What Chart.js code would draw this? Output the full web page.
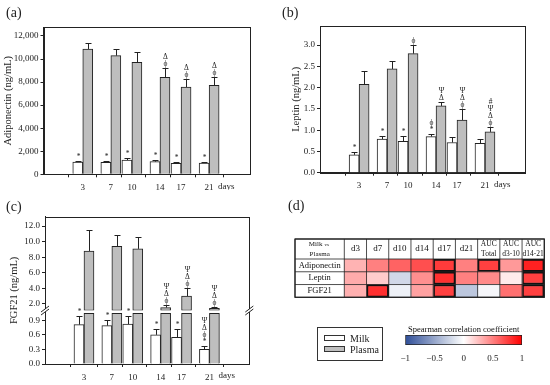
<!DOCTYPE html>
<html>
<head>
<meta charset="utf-8">
<script src="https://cdn.jsdelivr.net/npm/chart.js@4.4.1/dist/chart.umd.min.js"></script>
<style>
  body { margin: 0; background: #fff; }
  #wrap { position: relative; width: 550px; height: 385px; font-family: 'Liberation Serif', serif; color: #222; overflow: hidden; }
  canvas { position: absolute; }
  .tag { position: absolute; font-size: 14px; line-height: 16px; }
  #legend { position: absolute; left: 317px; top: 327px; width: 64px; height: 32px; border: 1px solid #333; font-size: 10px; }
  #legend div { position: absolute; left: 6px; height: 10px; line-height: 10px; }
  #legend span { display: inline-block; width: 19px; height: 4px; border: 1px solid #333; margin-right: 5px; vertical-align: 1px; }
</style>
</head>
<body>
<div id="wrap">
  <canvas id="panelA" width="275" height="190" style="left:0;top:0"></canvas>
  <canvas id="panelB" width="275" height="190" style="left:275px;top:0"></canvas>
  <canvas id="panelC" width="275" height="195" style="left:0;top:190px"></canvas>
  <canvas id="panelD" width="265" height="195" style="left:285px;top:190px"></canvas>
  <canvas id="colorbar" width="150" height="50" style="left:390px;top:318px"></canvas>
  <div class="tag" style="left:6px;top:5px">(a)</div>
  <div class="tag" style="left:282px;top:5px">(b)</div>
  <div class="tag" style="left:6px;top:199px">(c)</div>
  <div class="tag" style="left:288px;top:198px">(d)</div>
  <div id="legend">
    <div style="top:6px"><span style="background:#fff"></span>Milk</div>
    <div style="top:17px"><span style="background:#bebebe"></span>Plasma</div>
  </div>
</div>
<script>
// sampling days (x axis)
const days = [3, 7, 10, 14, 17, 21];

// (a) adiponectin, ng/mL
const adipoMilk = [1070, 1040, 1240, 1100, 950, 980];
const adipoMilkErr = [90, 90, 200, 110, 90, 90];
const adipoPlasma = [10870, 10290, 9710, 8410, 7570, 7720];
const adipoPlasmaErr = [490, 580, 930, 840, 720, 690];
const adipoMilkMarks = [['*'], ['*'], ['*'], ['*'], ['*'], ['*']];
const adipoPlasmaMarks = [[], [], [], ['ϕ', 'Δ'], ['ϕ', 'Δ'], ['ϕ', 'Δ']];
const adipoTicks = [0, 2000, 4000, 6000, 8000, 10000, 12000];

// (b) leptin, ng/mL
const leptinMilk = [0.42, 0.79, 0.74, 0.85, 0.71, 0.69];
const leptinMilkErr = [0.07, 0.07, 0.13, 0.07, 0.12, 0.10];
const leptinPlasma = [2.08, 2.44, 2.80, 1.57, 1.24, 0.96];
const leptinPlasmaErr = [0.31, 0.18, 0.21, 0.10, 0.26, 0.12];
const leptinMilkMarks = [['*'], ['*'], ['*'], ['*', 'ϕ'], [], []];
const leptinPlasmaMarks = [[], [], ['ϕ'], ['Δ', 'Ψ'], ['ϕ', 'Δ', 'Ψ'], ['ϕ', 'Δ', 'Ψ', '#']];
const leptinTicks = [0, 0.5, 1.0, 1.5, 2.0, 2.5, 3.0];

// (c) FGF21, ng/mL (broken axis)
const fgfMilk = [0.81, 0.79, 0.82, 0.60, 0.55, 0.30];
const fgfMilkErr = [0.17, 0.12, 0.16, 0.12, 0.16, 0.08];
const fgfPlasma = [8.8, 9.4, 9.07, 1.53, 3.0, 1.44];
const fgfPlasmaErr = [2.73, 1.4, 1.5, 0.27, 1.04, 0.22];
const fgfMilkMarks = [['*'], ['*'], ['*'], ['*'], ['*'], ['*', 'ϕ', 'Δ', 'Ψ']];
const fgfPlasmaMarks = [[], [], [], ['ϕ', 'Δ', 'Ψ'], ['ϕ', 'Δ', 'Ψ'], ['ϕ', 'Δ', 'Ψ']];
const fgfLowTicks = [0, 0.3, 0.6, 0.9];
const fgfHighTicks = [2, 4, 6, 8, 10, 12];

// (d) Spearman correlation milk vs plasma
const heatCols = ['d3', 'd7', 'd10', 'd14', 'd17', 'd21', 'AUC\nTotal', 'AUC\nd3-10', 'AUC\nd14-21'];
const heatRows = ['Adiponectin', 'Leptin', 'FGF21'];
const corrAdipo = [0.30, 0.50, 0.61, 0.69, 0.77, 0.50, 0.75, 0.40, 0.87];
const corrLeptin = [0.33, 0.20, -0.22, 0.44, 0.81, 0.50, 0.46, 0.08, 0.75];
const corrFgf = [0.31, 0.81, -0.08, 0.37, 0.75, -0.32, -0.05, 0.56, 0.75];
const sigAdipo = [0, 0, 0, 0, 1, 0, 1, 0, 1];
const sigLeptin = [0, 0, 0, 0, 1, 0, 0, 0, 1];
const sigFgf = [0, 1, 0, 0, 1, 0, 0, 0, 1];
const corrRange = [-1, 1];
const corrTicks = [-1, -0.5, 0, 0.5, 1];

const INK = '#222';
const PLASMA = '#bebebe';
const FONT = "'Liberation Serif', serif";

Chart.defaults.font.family = FONT;
Chart.defaults.font.size = 9;
Chart.defaults.color = INK;
Chart.defaults.animation = false;
Chart.defaults.responsive = false;
Chart.defaults.plugins.legend.display = false;
Chart.defaults.plugins.tooltip.enabled = false;

// error bars plus significance symbols stacked above them
const errorMarks = {
    id: 'errorMarks',
    afterDatasetsDraw(chart) {
        const ctx = chart.ctx;
        ctx.save();
        ctx.strokeStyle = INK;
        ctx.fillStyle = INK;
        ctx.lineWidth = 1;
        ctx.textAlign = 'center';
        ctx.textBaseline = 'middle';
        ctx.font = '7.5px ' + FONT;
        chart.data.datasets.forEach((ds, i) => {
            if (!ds.errors) return;
            const meta = chart.getDatasetMeta(i);
            const y = chart.scales[meta.yAxisID];
            meta.data.forEach((bar, j) => {
                const x = Math.round(bar.x) + 0.5;
                const top = y.getPixelForValue(ds.values[j]);
                const cap = Math.round(y.getPixelForValue(ds.values[j] + ds.errors[j])) + 0.5;
                ctx.beginPath();
                ctx.moveTo(x, top);
                ctx.lineTo(x, cap);
                ctx.moveTo(x - 3, cap);
                ctx.lineTo(x + 3, cap);
                ctx.stroke();
                (ds.marks[j] || []).forEach((m, k) => ctx.fillText(m, x, cap - 4 - k * 7));
            });
        });
        ctx.restore();
    }
};

// box around the plot, "days" label, optional axis break and title
const frame = {
    id: 'frame',
    afterDraw(chart, args, opts) {
        const { ctx, chartArea: a, scales } = chart;
        ctx.save();
        ctx.strokeStyle = INK;
        ctx.lineWidth = 1;
        ctx.strokeRect(Math.round(a.left) + 0.5, Math.round(a.top) + 0.5, Math.round(a.right - a.left), Math.round(a.bottom - a.top));
        ctx.fillStyle = INK;
        ctx.font = '9px ' + FONT;
        ctx.textAlign = 'left';
        ctx.textBaseline = 'middle';
        ctx.fillText('days', scales.x.getPixelForValue(days[days.length - 1]) + 9, scales.x.top + 12);
        if (opts.title) {
            ctx.save();
            ctx.translate(opts.titleX, (a.top + a.bottom) / 2);
            ctx.rotate(-Math.PI / 2);
            ctx.textAlign = 'center';
            ctx.font = '10.5px ' + FONT;
            ctx.fillText(opts.title, 0, 0);
            ctx.restore();
        }
        if (opts.breakAxis) {
            const yb = scales[opts.breakAxis].top;
            [a.left, a.right].forEach(x => {
                ctx.fillStyle = '#fff';
                ctx.fillRect(x - 2, yb - 1.5, 4, 3);
                ctx.beginPath();
                ctx.moveTo(x - 4, yb + 1.5);
                ctx.lineTo(x + 4, yb - 4.5);
                ctx.moveTo(x - 4, yb + 4.5);
                ctx.lineTo(x + 4, yb - 1.5);
                ctx.stroke();
            });
        }
        ctx.restore();
    }
};

function xDays(height) {
    return {
        type: 'linear', min: -0.15, max: 24.28,
        afterBuildTicks: s => { s.ticks = days.map(v => ({ value: v })); },
        ticks: { padding: 5, maxRotation: 0, autoSkip: false, callback: v => String(v) },
        grid: { drawOnChartArea: false, tickLength: 3, color: INK },
        border: { color: INK },
        afterFit: s => { s.height = height; }
    };
}

function yAxis(min, max, ticks, fmt, width, extra) {
    return Object.assign({
        type: 'linear', min, max,
        afterBuildTicks: s => { s.ticks = ticks.map(v => ({ value: v })); },
        ticks: { padding: 2, autoSkip: false, callback: fmt },
        grid: { drawOnChartArea: false, tickLength: 3, color: INK },
        border: { color: INK },
        afterFit: s => { s.width = width; }
    }, extra);
}

function barSet(label, data, fill, extra) {
    return Object.assign({
        label, data,
        backgroundColor: fill,
        borderColor: INK,
        borderWidth: 1,
        barThickness: 10,
        stack: label
    }, extra);
}

function points(values) {
    return days.map((d, i) => ({ x: d, y: values[i] }));
}

// (a)
new Chart(document.getElementById('panelA'), {
    type: 'bar',
    data: {
        datasets: [
            barSet('Milk', points(adipoMilk), '#fff', { values: adipoMilk, errors: adipoMilkErr, marks: adipoMilkMarks }),
            barSet('Plasma', points(adipoPlasma), PLASMA, { values: adipoPlasma, errors: adipoPlasmaErr, marks: adipoPlasmaMarks })
        ]
    },
    options: {
        layout: { padding: { left: 0, right: 25.7, top: 27.3, bottom: 0 } },
        scales: {
            x: xDays(15.7),
            y: yAxis(0, 12750, adipoTicks, v => v.toLocaleString('en-US'), 43.5, {
                title: { display: true, text: 'Adiponectin (ng/mL)', font: { size: 10.5 }, padding: { top: 1.5, bottom: 0 } }
            })
        },
        plugins: { frame: {} }
    },
    plugins: [errorMarks, frame]
});

// (b)
new Chart(document.getElementById('panelB'), {
    type: 'bar',
    data: {
        datasets: [
            barSet('Milk', points(leptinMilk), '#fff', { values: leptinMilk, errors: leptinMilkErr, marks: leptinMilkMarks }),
            barSet('Plasma', points(leptinPlasma), PLASMA, { values: leptinPlasma, errors: leptinPlasmaErr, marks: leptinPlasmaMarks })
        ]
    },
    options: {
        layout: { padding: { left: 0, right: 25, top: 26, bottom: 0 } },
        scales: {
            x: xDays(17.3),
            y: yAxis(0, 3.45, leptinTicks, v => v.toFixed(1), 45, {
                title: { display: true, text: 'Leptin (ng/mL)', font: { size: 10.5 }, padding: { top: 14.5, bottom: 0 } }
            })
        },
        plugins: { frame: {} }
    },
    plugins: [errorMarks, frame]
});

// (c) broken y axis: two stacked scales
const FGF_LOW_MAX = 1.1;
const FGF_LOW_BAR = 1.04;
const FGF_HIGH_MIN = 1.15;
new Chart(document.getElementById('panelC'), {
    type: 'bar',
    data: {
        datasets: [
            barSet('Milk', points(fgfMilk), '#fff', { yAxisID: 'yLo', values: fgfMilk, errors: fgfMilkErr, marks: fgfMilkMarks }),
            barSet('Plasma', days.map((d, i) => ({ x: d, y: Math.min(fgfPlasma[i], FGF_LOW_BAR) })), PLASMA, { yAxisID: 'yLo' }),
            barSet('Plasma', days.map((d, i) => ({ x: d, y: [FGF_HIGH_MIN, fgfPlasma[i]] })), PLASMA, {
                yAxisID: 'yHi', borderSkipped: false, values: fgfPlasma, errors: fgfPlasmaErr, marks: fgfPlasmaMarks
            })
        ]
    },
    options: {
        layout: { padding: { left: 0, right: 25.7, top: 26.7, bottom: 0 } },
        scales: {
            x: xDays(21),
            yLo: yAxis(0, FGF_LOW_MAX, fgfLowTicks, v => v.toFixed(1), 45, { position: 'left', stack: 'fgf', stackWeight: 53 }),
            yHi: yAxis(FGF_HIGH_MIN, 13.2, fgfHighTicks, v => v.toFixed(1), 45, { position: 'left', stack: 'fgf', stackWeight: 93 })
        },
        plugins: { frame: { title: 'FGF21 (ng/mL)', titleX: 14.5, breakAxis: 'yLo' } }
    },
    plugins: [errorMarks, frame]
});

// (d) correlation table
function corrColor(r) {
    const end = r < 0 ? [47, 79, 152] : [255, 0, 0];
    const t = Math.min(1, Math.abs(r));
    const c = end.map(v => Math.round(255 + (v - 255) * t));
    return 'rgb(' + c.join(',') + ')';
}

const corrRows = [corrAdipo, corrLeptin, corrFgf];
const sigRows = [sigAdipo, sigLeptin, sigFgf];

const table = {
    id: 'table',
    afterDatasetsDraw(chart) {
        const { ctx, chartArea: a, scales: { x, y } } = chart;
        const left = 10;
        const headTop = a.top - 20;
        const rowH = (a.bottom - a.top) / heatRows.length;
        ctx.save();
        ctx.strokeStyle = INK;
        ctx.lineWidth = 0.8;
        ctx.beginPath();
        for (let j = 0; j <= heatCols.length; j++) {
            const px = x.getPixelForValue(j);
            ctx.moveTo(px, headTop);
            ctx.lineTo(px, a.bottom);
        }
        for (let i = 0; i <= heatRows.length; i++) {
            ctx.moveTo(left, a.top + i * rowH);
            ctx.lineTo(a.right, a.top + i * rowH);
        }
        ctx.moveTo(left, headTop);
        ctx.lineTo(a.right, headTop);
        ctx.moveTo(left, headTop);
        ctx.lineTo(left, a.bottom);
        ctx.stroke();
        ctx.lineWidth = 1.2;
        ctx.strokeRect(left, headTop, a.right - left, a.bottom - headTop);

        ctx.fillStyle = '#111';
        ctx.textAlign = 'center';
        ctx.textBaseline = 'middle';
        const cy = (headTop + a.top) / 2;
        heatCols.forEach((c, j) => {
            const cx = x.getPixelForValue(j + 0.5);
            const lines = c.split('\n');
            if (lines.length === 1) {
                ctx.font = '9px ' + FONT;
                ctx.fillText(c, cx, cy);
            } else {
                ctx.font = '7.5px ' + FONT;
                ctx.fillText(lines[0], cx, cy - 5);
                ctx.fillText(lines[1], cx, cy + 5);
            }
        });
        const lx = (left + a.left) / 2;
        ctx.font = '7px ' + FONT;
        ctx.fillText('Milk', lx - 4, cy - 5);
        ctx.font = '5px ' + FONT;
        ctx.fillText('vs', lx + 7, cy - 4);
        ctx.font = '7px ' + FONT;
        ctx.fillText('Plasma', lx, cy + 5);
        ctx.font = '8.5px ' + FONT;
        heatRows.forEach((r, i) => ctx.fillText(r, lx, y.getPixelForValue(i)));
        ctx.restore();
    }
};

new Chart(document.getElementById('panelD'), {
    type: 'bar',
    data: {
        labels: heatRows,
        datasets: heatCols.map((c, j) => ({
            label: c,
            data: heatRows.map(() => 1),
            backgroundColor: corrRows.map(row => corrColor(row[j])),
            borderColor: '#111',
            borderWidth: sigRows.map(row => row[j] ? 2 : 0),
            borderSkipped: false,
            barPercentage: 1,
            categoryPercentage: 1
        }))
    },
    options: {
        indexAxis: 'y',
        layout: { padding: { left: 59.3, right: 5.7, top: 69, bottom: 87.7 } },
        scales: {
            x: { stacked: true, min: 0, max: heatCols.length, display: false },
            y: { stacked: true, display: false }
        }
    },
    plugins: [table]
});

// colour scale
const barTitle = {
    id: 'barTitle',
    afterDraw(chart) {
        const { ctx, chartArea: a } = chart;
        ctx.save();
        ctx.fillStyle = '#111';
        ctx.font = '8.5px ' + FONT;
        ctx.textAlign = 'center';
        ctx.textBaseline = 'middle';
        ctx.fillText('Spearman correlation coefficient', (a.left + a.right) / 2, a.top - 5.5);
        ctx.restore();
    }
};

new Chart(document.getElementById('colorbar'), {
    type: 'bar',
    data: {
        labels: [''],
        datasets: [{
            data: [corrRange],
            backgroundColor: c => {
                const { chart } = c;
                if (!chart.chartArea) return 'transparent';
                const sx = chart.scales.x;
                const g = chart.ctx.createLinearGradient(sx.getPixelForValue(corrRange[0]), 0, sx.getPixelForValue(corrRange[1]), 0);
                for (let k = 0; k <= 10; k++) {
                    g.addColorStop(k / 10, corrColor(corrRange[0] + (corrRange[1] - corrRange[0]) * k / 10));
                }
                return g;
            },
            borderColor: INK,
            borderWidth: 1,
            borderSkipped: false,
            barPercentage: 1,
            categoryPercentage: 1
        }]
    },
    options: {
        indexAxis: 'y',
        layout: { padding: { left: 15.3, right: 18, top: 17, bottom: 7 } },
        scales: {
            x: {
                type: 'linear', min: corrRange[0], max: corrRange[1],
                afterBuildTicks: s => { s.ticks = corrTicks.map(v => ({ value: v })); },
                ticks: { padding: 8, callback: v => String(v).replace('-', '\u2212') },
                grid: { display: false, drawTicks: false },
                border: { display: false },
                afterFit: s => { s.height = 16; }
            },
            y: { display: false }
        }
    },
    plugins: [barTitle]
});
</script>
</body>
</html>
